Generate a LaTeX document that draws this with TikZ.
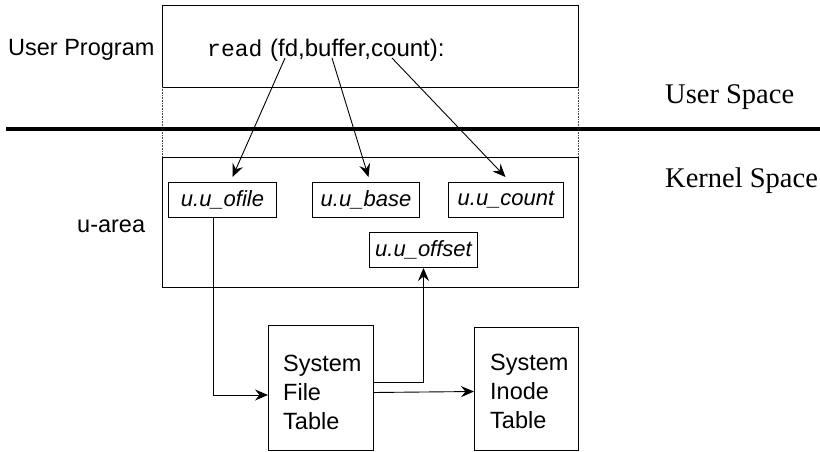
\documentclass[tikz,border=0pt]{standalone}
\usepackage{fontspec}
\setmainfont{Liberation Sans}
\newfontfamily\serifz{Liberation Serif}
\newfontfamily\monoz{Liberation Mono}
\usetikzlibrary{arrows.meta,calc}
\begin{document}
\begin{tikzpicture}[x=1pt,y=-1pt,
  box/.style={draw,line width=1pt,anchor=north west,inner sep=0pt},
  fieldbox/.style={box,minimum height=35pt,font=\fontsize{22}{26}\selectfont\itshape},
  arr/.style={line width=0.9pt,-{Stealth[length=13pt,width=11pt,inset=4.5pt]}},
  lbl/.style={anchor=base west,inner sep=0pt,font=\fontsize{23.5}{29}\selectfont},
  spacelbl/.style={anchor=base west,inner sep=0pt,font=\fontsize{28.5}{34}\serifz},
  sep/.style={line width=0.6pt,densely dotted,black!70}
]
\useasboundingbox (0,0) rectangle (820,452);

% user program box
\node[box,minimum width=416pt,minimum height=82pt] (prog) at (162,5) {};
\node[lbl] (proglbl) at (8,56) {User Program};
\node[lbl,font=\fontsize{23}{28}\monoz] (readtxt) at (207,57) {read};
\node[lbl,font=\fontsize{24}{29}\selectfont] (args) at (270,57) {(fd,buffer,count):};
\coordinate (fd) at (285,58);
\coordinate (buf) at (332,58);
\coordinate (cnt) at (392,58);

% dotted extensions
\coordinate (dl1) at (162,87);
\coordinate (dl2) at (162,157);
\coordinate (dr1) at (578,87);
\coordinate (dr2) at (578,157);
\draw[sep] (dl1) -- (dl2);
\draw[sep] (dr1) -- (dr2);

% boundary
\coordinate (bl) at (6,129);
\coordinate (br) at (820,129);
\draw[line width=4.5pt] (bl) -- (br);
\node[spacelbl] (us) at (665,103) {User Space};
\node[spacelbl] (ks) at (665,187) {Kernel Space};

% u-area
\node[box,minimum width=416pt,minimum height=130pt] (uarea) at (162,157) {};
\node[lbl] (ualbl) at (77,232) {u-area};
\node[fieldbox,minimum width=108pt] (ofile) at (168,182) {u.u\_ofile};
\node[fieldbox,minimum width=107pt] (base) at (312,182) {u.u\_base};
\node[fieldbox,minimum width=115pt] (count) at (448,182) {u.u\_count};
\node[fieldbox,minimum width=108pt] (offset) at (369,232) {u.u\_offset};

% tables
\node[box,minimum width=105pt,minimum height=125pt] (filet) at (268,325) {};
\node[lbl,align=left] (filetxt) at (283,429) {System\\File\\Table};
\node[box,minimum width=104pt,minimum height=123pt] (inode) at (474,327) {};
\node[lbl,align=left] (inodetxt) at (490,428) {System\\Inode\\Table};

% arrows from read arguments
\draw[arr] (fd) -- ($(ofile.north)+(10,-5)$);
\draw[arr] (buf) -- ($(base.north)+(2.5,-5)$);
\draw[arr] (cnt) -- ($(count.north)+(-0.5,-5)$);

% ofile -> file table
\draw[arr] ($(ofile.south)+(-9,0)$) |- ($(filet.west)+(0,7)$);
% file table -> offset
\draw[arr] ($(filet.east)+(0,-6)$) -| (offset.south);
% file table -> inode table
\draw[arr] ($(filet.east)+(0,4.5)$) -- ($(inode.west)+(0,2.5)$);
\end{tikzpicture}
\end{document}
